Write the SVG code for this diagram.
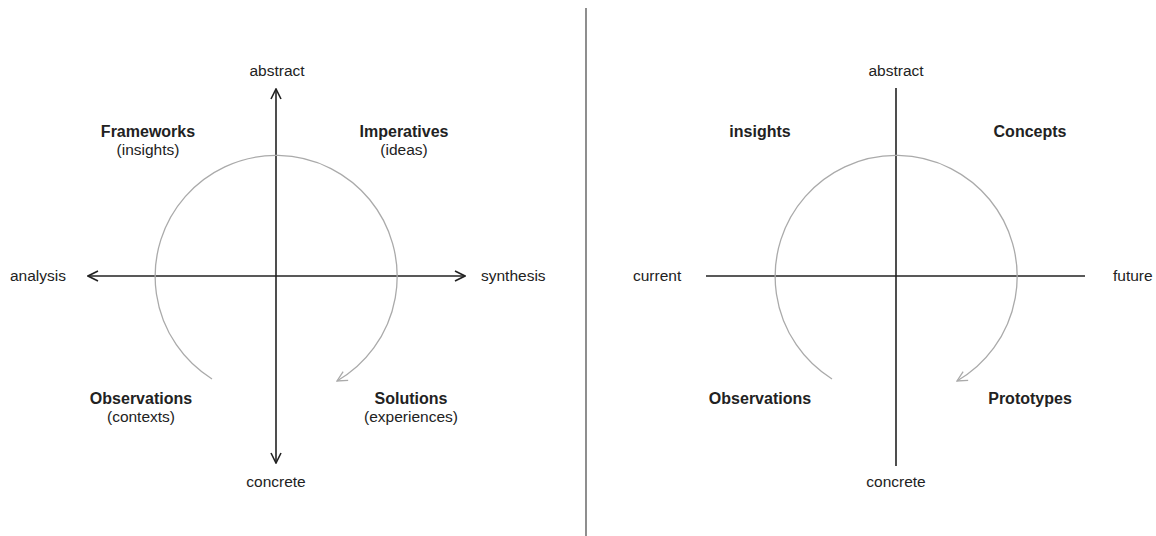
<svg xmlns="http://www.w3.org/2000/svg" width="1156" height="536" viewBox="0 0 1156 536">
  <style>
    text { font-family: "Liberation Sans", Arial, sans-serif; font-size: 15.5px; fill: #222; }
    .b { font-weight: bold; font-size: 16px; }
    .m { text-anchor: middle; }
    .axis { stroke: #222; stroke-width: 1.6; fill: none; }
    .loop { stroke: #aaa; stroke-width: 1.3; fill: none; }
    .rule { stroke: #444; stroke-width: 1.2; }
  </style>
  <defs>
    <marker id="chev" viewBox="0 0 12 12" refX="11" refY="6" markerWidth="12" markerHeight="12" markerUnits="userSpaceOnUse" orient="auto-start-reverse">
      <path d="M1 1 L11 6 L1 11" fill="none" stroke="#222" stroke-width="1.6"/>
    </marker>
    <marker id="chevGrey" viewBox="0 0 12 12" refX="11" refY="6" markerWidth="12" markerHeight="12" markerUnits="userSpaceOnUse" orient="auto">
      <path d="M1 1 L11 6 L1 11" fill="none" stroke="#aaa" stroke-width="1.3"/>
    </marker>
  </defs>

  <rect width="1156" height="536" fill="#fff"/>

  <!-- divider between the two panels -->
  <line class="rule" x1="586" y1="8" x2="586" y2="536"/>

  <g id="connectors">
    <!-- left panel axes (double-headed) -->
    <line class="axis" x1="276" y1="89" x2="276" y2="463" marker-start="url(#chev)" marker-end="url(#chev)"/>
    <line class="axis" x1="88" y1="276" x2="465" y2="276" marker-start="url(#chev)" marker-end="url(#chev)"/>
    <!-- left panel cycle -->
    <path class="loop" d="M212 379 A121 121 0 1 1 337 381" marker-end="url(#chevGrey)"/>

    <!-- right panel axes (plain) -->
    <line class="axis" x1="896" y1="88" x2="896" y2="466"/>
    <line class="axis" x1="706" y1="276" x2="1085" y2="276"/>
    <!-- right panel cycle -->
    <path class="loop" d="M832 379 A121 121 0 1 1 957 381" marker-end="url(#chevGrey)"/>
  </g>

  <!-- left panel -->
  <g id="left-abstract"><text class="m" x="277" y="76">abstract</text></g>
  <g id="left-concrete"><text class="m" x="276" y="487">concrete</text></g>
  <g id="left-analysis"><text x="10" y="281">analysis</text></g>
  <g id="left-synthesis"><text x="481" y="281">synthesis</text></g>
  <g id="frameworks">
    <text class="m b" x="148" y="137">Frameworks</text>
    <text class="m" x="148" y="155">(insights)</text>
  </g>
  <g id="imperatives">
    <text class="m b" x="404" y="137">Imperatives</text>
    <text class="m" x="404" y="155">(ideas)</text>
  </g>
  <g id="left-observations">
    <text class="m b" x="141" y="404">Observations</text>
    <text class="m" x="141" y="422">(contexts)</text>
  </g>
  <g id="solutions">
    <text class="m b" x="411" y="404">Solutions</text>
    <text class="m" x="411" y="422">(experiences)</text>
  </g>

  <!-- right panel -->
  <g id="right-abstract"><text class="m" x="896" y="76">abstract</text></g>
  <g id="right-concrete"><text class="m" x="896" y="487">concrete</text></g>
  <g id="current"><text x="633" y="281">current</text></g>
  <g id="future"><text x="1113" y="281">future</text></g>
  <g id="insights"><text class="m b" x="760" y="137">insights</text></g>
  <g id="concepts"><text class="m b" x="1030" y="137">Concepts</text></g>
  <g id="right-observations"><text class="m b" x="760" y="404">Observations</text></g>
  <g id="prototypes"><text class="m b" x="1030" y="404">Prototypes</text></g>
</svg>
